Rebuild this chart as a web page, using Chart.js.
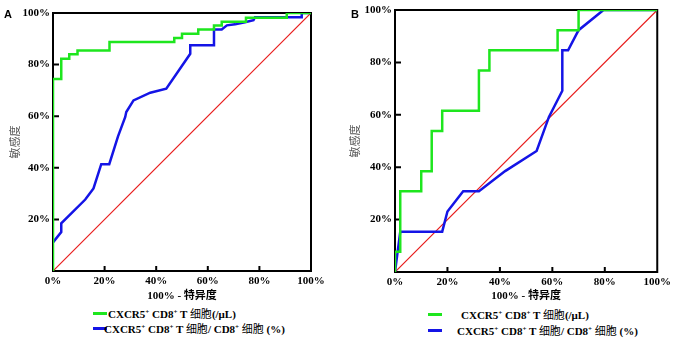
<!DOCTYPE html>
<html>
<head>
<meta charset="utf-8">
<script src="https://cdn.jsdelivr.net/npm/chart.js@4/dist/chart.umd.min.js"></script>
<style>
  body { margin: 0; background: #fff; width: 675px; height: 340px; position: relative; overflow: hidden; }
  canvas { position: absolute; top: 0; }
  #rocA { left: 0; }
  #rocB { left: 337px; }
  .tag { position: absolute; top: 8px; font: bold 11px "Liberation Sans", Arial, sans-serif; color: #000; }
  .sw { position: absolute; height: 3px; width: 14px; }
  .leg { position: absolute; font: bold 11px "Liberation Serif", "Noto Sans CJK SC", serif; color: #000; white-space: nowrap; line-height: 14px; }
  .leg sup { font-size: 7px; vertical-align: 4px; line-height: 0; }
  .leg .cjk { font-weight: normal; font-family: "Noto Sans CJK SC", sans-serif; }
</style>
</head>
<body>
<canvas id="rocA" width="337" height="305"></canvas>
<canvas id="rocB" width="338" height="305"></canvas>
<div class="tag" style="left:4px;">A</div>
<div class="tag" style="left:351px;">B</div>

<div class="sw" style="left:93px; top:312px; background:#1ee61e;"></div>
<div class="leg" style="left:108px; top:306px;">CXCR5<sup>+</sup> CD8<sup>+</sup> T <span class="cjk">细胞</span>(/μL)</div>
<div class="sw" style="left:93px; top:327px; background:#1414e6;"></div>
<div class="leg" style="left:104px; top:321px;">CXCR5<sup>+</sup> CD8<sup>+</sup> T <span class="cjk">细胞</span>/ CD8<sup>+</sup> <span class="cjk">细胞</span> (%)</div>

<div class="sw" style="left:428px; top:313px; background:#1ee61e;"></div>
<div class="leg" style="left:461px; top:307px;">CXCR5<sup>+</sup> CD8<sup>+</sup> T <span class="cjk">细胞</span>(/μL)</div>
<div class="sw" style="left:428px; top:329px; background:#1414e6;"></div>
<div class="leg" style="left:457px; top:323px;">CXCR5<sup>+</sup> CD8<sup>+</sup> T <span class="cjk">细胞</span>/ CD8<sup>+</sup> <span class="cjk">细胞</span> (%)</div>

<script>
// panel A, 1 - specificity (x) and sensitivity (y), in %
const aGreenX = [0, 0, 3.2, 3.2, 6.3, 6.3, 9.5, 9.5, 21.9, 21.9, 47, 47, 50, 50, 56.3, 56.3, 62.4, 62.4, 65.4, 65.4, 74.8, 74.8, 90.6, 90.6, 100];
const aGreenY = [0, 74.4, 74.4, 82.3, 82.3, 84, 84, 85.5, 85.5, 88.8, 88.8, 90.3, 90.3, 92, 92, 93.6, 93.6, 95.2, 95.2, 96.6, 96.6, 98.2, 98.2, 100, 100];
const aBlueX = [0, 3.2, 3.2, 12.5, 15.7, 18.7, 21.8, 25.2, 28, 28.4, 31.2, 37.7, 43.9, 53.2, 53.2, 62.4, 62.4, 65.4, 67.4, 70.6, 74.4, 77.7, 78.3, 90.8, 96.4, 96.4, 100];
const aBlueY = [11.1, 15.1, 18.5, 27.7, 32, 41.4, 41.4, 52.2, 59.7, 61.6, 66.1, 69.1, 70.7, 84.2, 87.5, 87.5, 93.6, 93.6, 95.2, 95.6, 96.4, 97.2, 98.4, 98.4, 98.4, 100, 100];

// panel B
const bGreenX = [0, 0, 2, 2, 10, 10, 14, 14, 18, 18, 32, 32, 36, 36, 62, 62, 70, 70, 100];
const bGreenY = [0, 7.7, 7.7, 30.8, 30.8, 38.5, 38.5, 53.8, 53.8, 61.5, 61.5, 76.9, 76.9, 84.6, 84.6, 92.3, 92.3, 100, 100];
const bBlueX = [0, 1, 2, 18, 20, 26, 32, 42, 54, 58.7, 63.8, 63.8, 66, 70, 79.5, 100];
const bBlueY = [0, 7.7, 15.4, 15.4, 23.1, 30.8, 30.8, 38.5, 46.2, 59.2, 69.2, 84.6, 84.6, 92.3, 100, 100];

// reference line
const diagX = [0, 100];
const diagY = [0, 100];

const seriesNames = ['CXCR5+ CD8+ T 细胞(/μL)', 'CXCR5+ CD8+ T 细胞/ CD8+ 细胞 (%)', '参考线'];
const tickValues = [0, 20, 40, 60, 80, 100];
const xTitle = '100% - 特异度';
const yTitle = '敏感度';

const GREEN = '#1ee61e';
const BLUE = '#1414e6';
const RED = '#e81c1c';
const serif = "'Liberation Serif', 'Noto Sans CJK SC', serif";

function pts(xs, ys) {
    return xs.map((x, i) => ({ x: x, y: ys[i] }));
}

// black box round the plot, with short tick marks pointing inwards
const framePlugin = {
    id: 'frame',
    beforeDatasetsDraw(chart) {
        const { ctx, chartArea: a, scales } = chart;
        ctx.save();
        ctx.strokeStyle = '#000';
        ctx.lineWidth = 2;
        ctx.strokeRect(a.left, a.top, a.right - a.left, a.bottom - a.top);
        ctx.beginPath();
        tickValues.slice(1, -1).forEach(v => {
            const px = scales.x.getPixelForValue(v);
            const py = scales.y.getPixelForValue(v);
            ctx.moveTo(px, a.bottom);
            ctx.lineTo(px, a.bottom - 5);
            ctx.moveTo(a.left, py);
            ctx.lineTo(a.left + 6, py);
        });
        ctx.stroke();
        ctx.restore();
    }
};

function rocChart(id, greenX, greenY, blueX, blueY, lay) {
    const ctx = document.getElementById(id).getContext('2d');
    const axisStyle = {
        type: 'linear',
        min: 0,
        max: 100,
        afterBuildTicks: s => { s.ticks = tickValues.map(v => ({ value: v })); },
        grid: { display: true, drawOnChartArea: false, drawTicks: false },
        border: { display: true, color: '#000', width: 2 }
    };
    new Chart(ctx, {
        type: 'scatter',
        data: {
            datasets: [
                { label: seriesNames[0], data: pts(greenX, greenY), borderColor: GREEN, borderWidth: 2.5, showLine: true, pointRadius: 0, order: 1 },
                { label: seriesNames[1], data: pts(blueX, blueY), borderColor: BLUE, borderWidth: 2.5, showLine: true, pointRadius: 0, order: 2 },
                { label: seriesNames[2], data: pts(diagX, diagY), borderColor: RED, borderWidth: 1.2, showLine: true, pointRadius: 0, order: 3 }
            ]
        },
        options: {
            responsive: false,
            animation: false,
            devicePixelRatio: 1,
            layout: { padding: { top: lay.top, right: lay.right, bottom: 0, left: 0 } },
            plugins: { legend: { display: false }, tooltip: { enabled: false } },
            scales: {
                x: Object.assign({}, axisStyle, {
                    position: 'bottom',
                    ticks: { callback: v => v + '%', color: '#000', padding: 4, maxRotation: 0, font: { family: serif, size: 11, weight: 'bold' } },
                    title: { display: true, text: xTitle, color: '#000', padding: { top: 0, bottom: 2 }, font: { family: serif, size: 11, weight: 'bold' } },
                    afterFit: s => { s.height = lay.xh; }
                }),
                y: Object.assign({}, axisStyle, {
                    position: 'left',
                    ticks: { callback: v => (v === 0 ? '' : v + '%'), color: '#000', padding: 3, font: { family: serif, size: 11, weight: 'bold' } },
                    title: { display: true, text: yTitle, color: '#555', padding: { top: lay.yt, bottom: 0 }, font: { family: "'Noto Sans CJK SC', sans-serif", size: 11 } },
                    afterFit: s => { s.width = lay.yw; }
                })
            }
        },
        plugins: [framePlugin]
    });
}

rocChart('rocA', aGreenX, aGreenY, aBlueX, aBlueY, { top: 13, right: 26, xh: 34, yw: 53, yt: 8 });
rocChart('rocB', bGreenX, bGreenY, bBlueX, bBlueY, { top: 10, right: 17, xh: 33, yw: 58, yt: 11 });
</script>
</body>
</html>
